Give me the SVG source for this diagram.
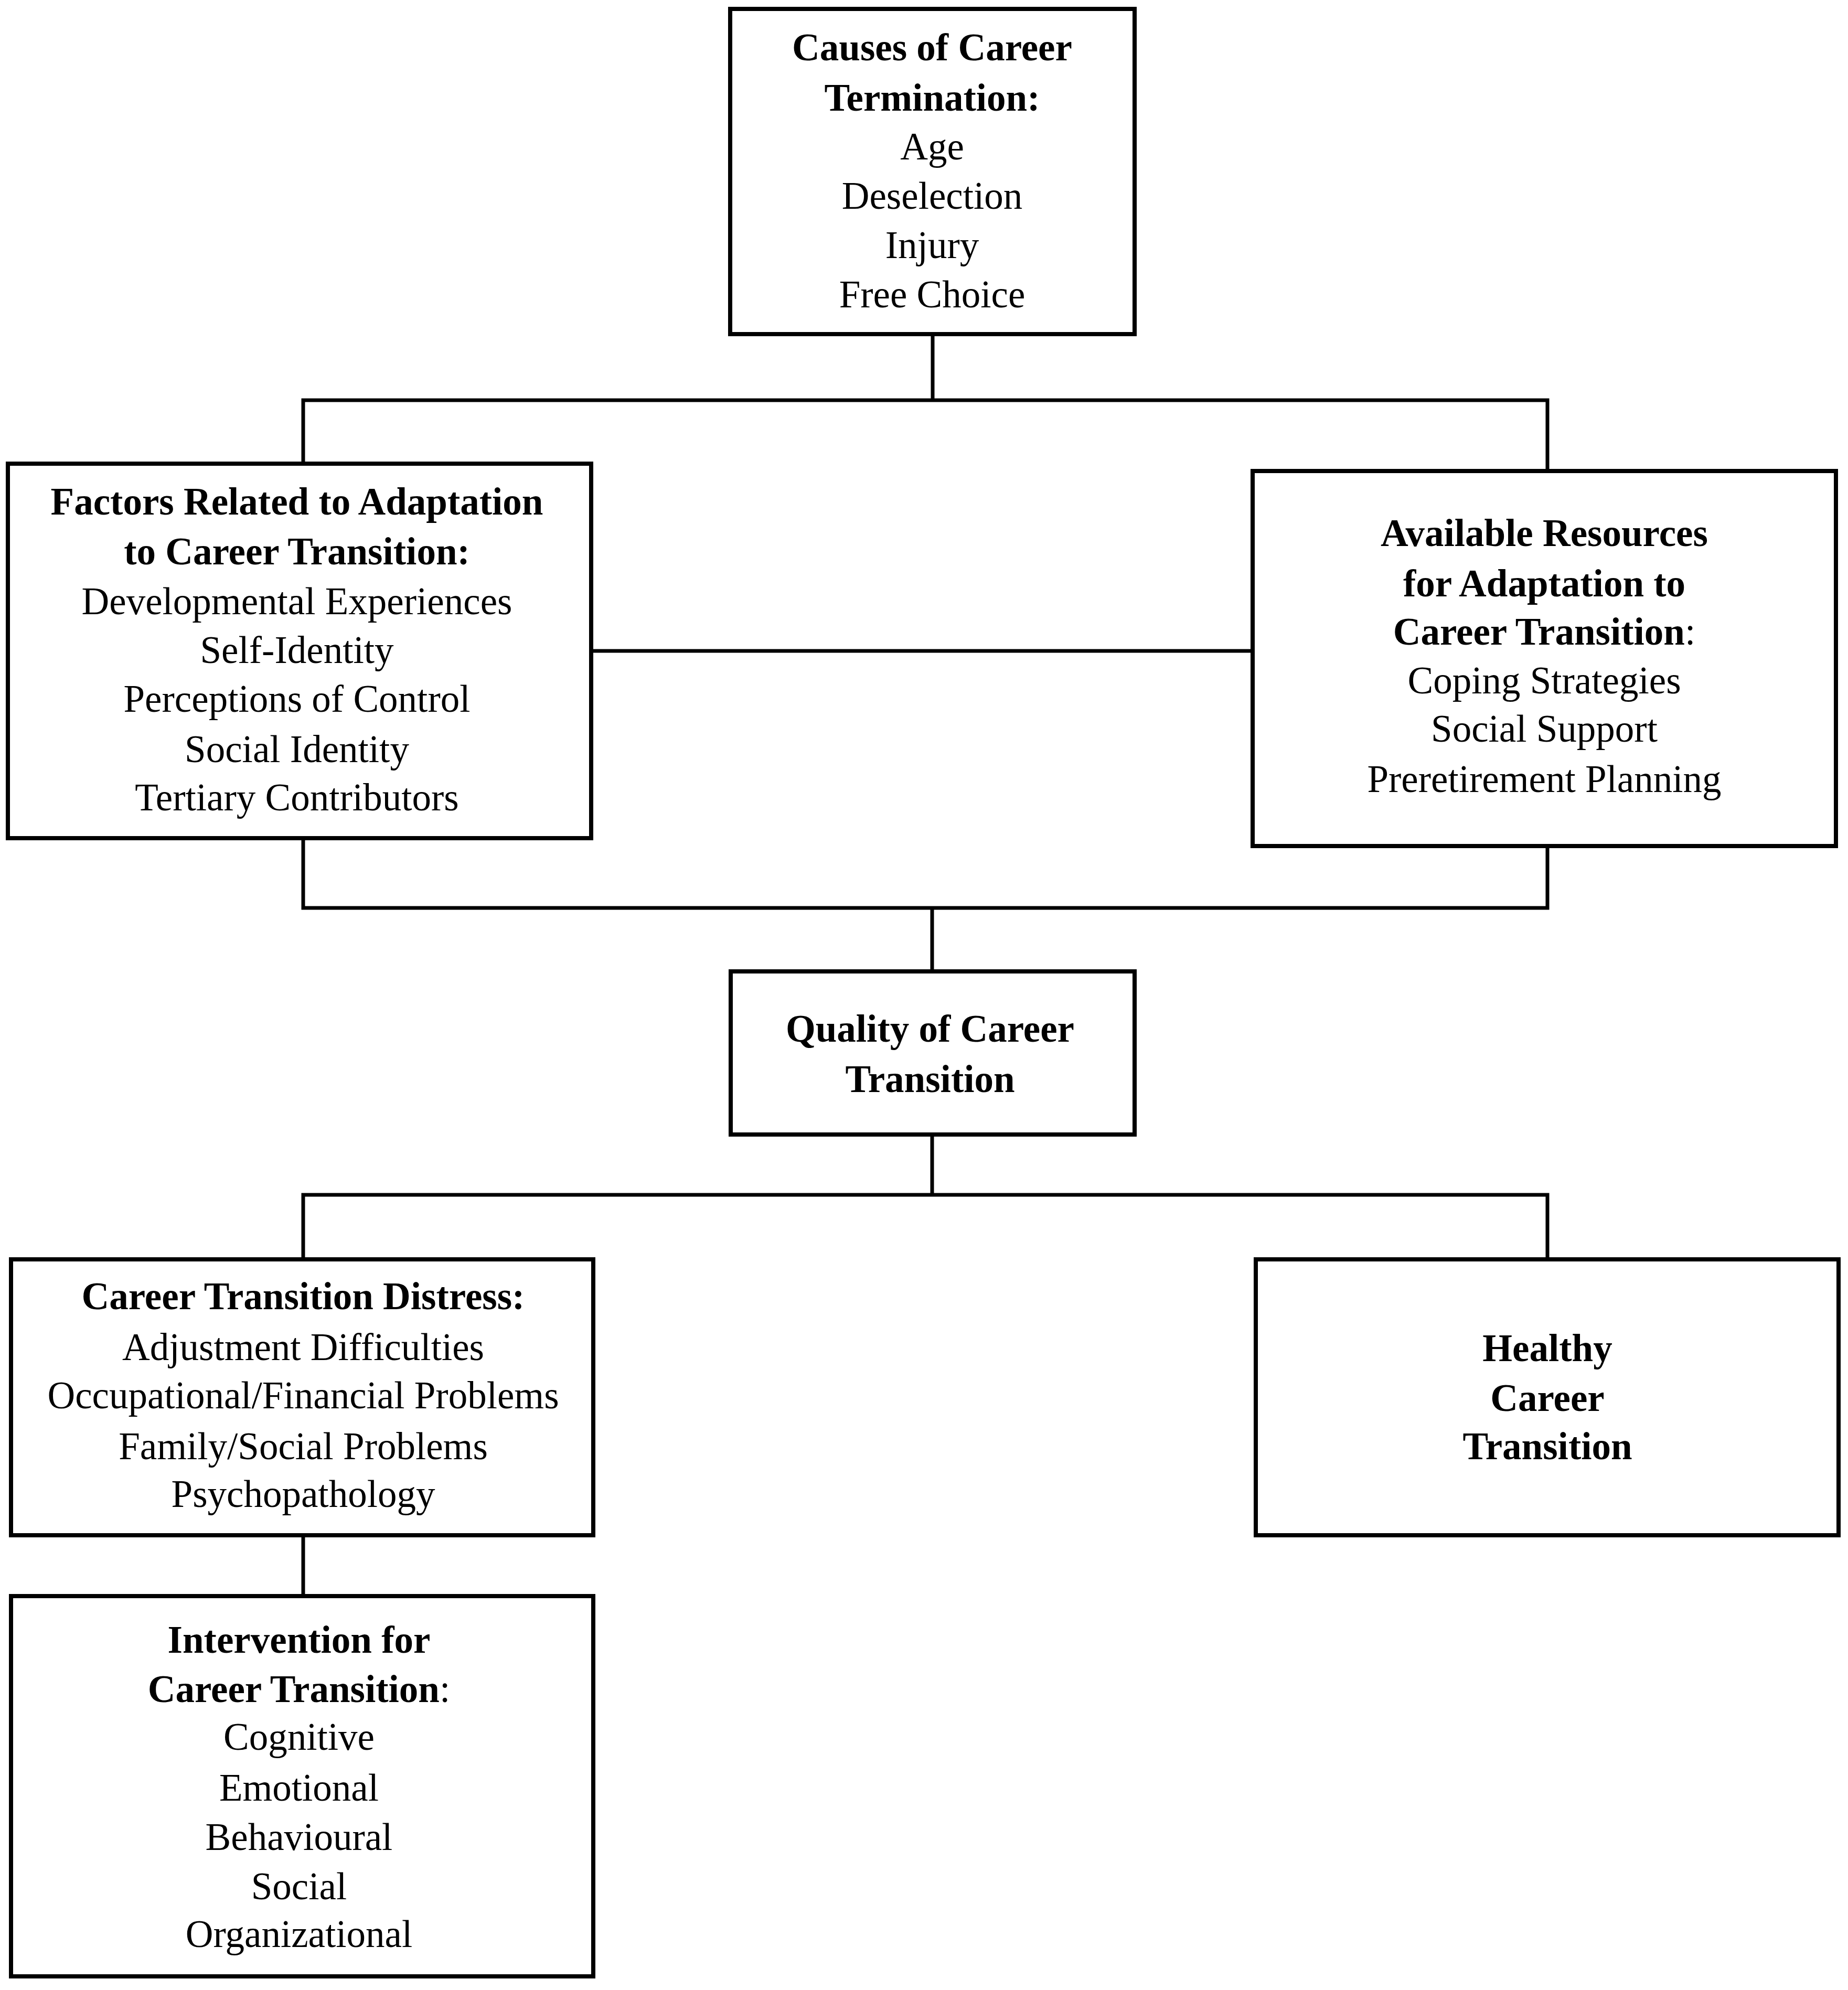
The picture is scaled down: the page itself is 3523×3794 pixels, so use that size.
<svg xmlns="http://www.w3.org/2000/svg" width="3523" height="3794" viewBox="0 0 3523 3794">
<style>
.box{fill:#fff;stroke:#000;stroke-width:8}
.con{fill:none;stroke:#000;stroke-width:7;stroke-linecap:square}
text{font-family:"Liberation Serif","Times New Roman",serif;font-size:73px;fill:#000;text-anchor:middle}
.b{font-weight:bold}
.n{font-weight:normal}
</style>
<rect width="3523" height="3794" fill="#fff"/>
<g id="connectors">
<path class="con" d="M1778 637 V763 M578 884 V763 H2950 V898"/>
<path class="con" d="M1127 1241 H2388"/>
<path class="con" d="M578 1598 V1731 H2950 V1613 M1777 1731 V1852"/>
<path class="con" d="M1777 2163 V2278 M578 2401 V2278 H2950 V2401"/>
<path class="con" d="M578 2927 V3043"/>
</g>
<g id="causes">
<rect class="box" x="1392" y="17" width="771" height="620"/>
<text x="1777" y="115" class="b">Causes of Career</text>
<text x="1777" y="211" class="b">Termination:</text>
<text x="1777" y="304">Age</text>
<text x="1777" y="398">Deselection</text>
<text x="1777" y="492">Injury</text>
<text x="1777" y="586">Free Choice</text>
</g>
<g id="factors">
<rect class="box" x="15" y="884" width="1112" height="714"/>
<text x="566" y="981" class="b">Factors Related to Adaptation</text>
<text x="566" y="1076" class="b">to Career Transition:</text>
<text x="566" y="1171">Developmental Experiences</text>
<text x="566" y="1264">Self-Identity</text>
<text x="566" y="1357">Perceptions of Control</text>
<text x="566" y="1453">Social Identity</text>
<text x="566" y="1545">Tertiary Contributors</text>
</g>
<g id="resources">
<rect class="box" x="2388" y="898" width="1112" height="715"/>
<text x="2944" y="1041" class="b">Available Resources</text>
<text x="2944" y="1137" class="b">for Adaptation to</text>
<text x="2944" y="1229" class="b">Career Transition<tspan class="n">:</tspan></text>
<text x="2944" y="1322">Coping Strategies</text>
<text x="2944" y="1414">Social Support</text>
<text x="2944" y="1510">Preretirement Planning</text>
</g>
<g id="quality">
<rect class="box" x="1393" y="1852" width="770" height="311"/>
<text x="1773" y="1986" class="b">Quality of Career</text>
<text x="1773" y="2082" class="b">Transition</text>
</g>
<g id="distress">
<rect class="box" x="21" y="2401" width="1110" height="526"/>
<text x="578" y="2496" class="b">Career Transition Distress:</text>
<text x="578" y="2593">Adjustment Difficulties</text>
<text x="578" y="2685">Occupational/Financial Problems</text>
<text x="578" y="2782">Family/Social Problems</text>
<text x="578" y="2873">Psychopathology</text>
</g>
<g id="healthy">
<rect class="box" x="2394" y="2401" width="1111" height="526"/>
<text x="2950" y="2595" class="b">Healthy</text>
<text x="2950" y="2690" class="b">Career</text>
<text x="2950" y="2782" class="b">Transition</text>
</g>
<g id="intervention">
<rect class="box" x="21" y="3043" width="1110" height="725"/>
<text x="570" y="3151" class="b">Intervention for</text>
<text x="570" y="3245" class="b">Career Transition<tspan class="n">:</tspan></text>
<text x="570" y="3336">Cognitive</text>
<text x="570" y="3433">Emotional</text>
<text x="570" y="3527">Behavioural</text>
<text x="570" y="3621">Social</text>
<text x="570" y="3712">Organizational</text>
</g>
</svg>
